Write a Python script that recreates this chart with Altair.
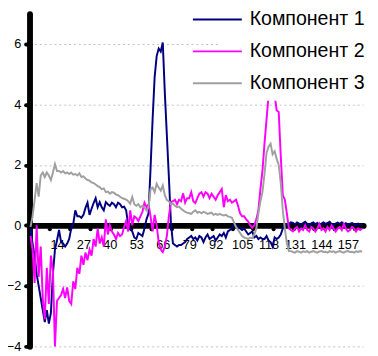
import altair as alt
import pandas as pd

series_names = ["Компонент 1", "Компонент 2", "Компонент 3"]
colors = ["#000080", "#ff00ff", "#a0a0a0"]
x_labels = [1, 14, 27, 40, 53, 66, 79, 92, 105, 118, 131, 144, 157]
y_labels = [-4, -2, 0, 2, 4, 6]
tick_cats = [10, 20, 30, 40, 50, 60, 70, 80, 90, 100, 110, 120, 130, 140, 150, 160]

comp1 = [
    -0.1, -0.6, -1.0, -1.6, -2.0, -2.4, -2.8, -3.2, -2.8, -3.25,
    -2.9, -1.6, -0.8, -0.5, -0.15, -0.55, -0.6, -0.7, -0.6, -0.45,
    -0.1, 0.05, 0.5, 0.3, 0.3, 0.25, 0.35, 0.58, 0.75, 0.35,
    0.55, 0.74, 0.9, 0.6, 0.77, 0.6, 0.5, 0.77, 0.7, 0.65,
    0.75, 0.7, 0.6, 0.75, 0.7, 0.6, 0.62, 0.5, 0.0, -0.1,
    -0.2, -0.4, -0.45, -0.25, -0.3, -0.35, -0.1, 0.2, 0.4, 1.9,
    3.5, 4.9, 5.6, 5.85, 5.75, 6.05, 4.4, 3.0, 1.6, 0.1,
    -0.6, -0.65, -0.7, -0.65, -0.65, -0.6, -0.55, -0.45, -0.4, -0.35,
    -0.45, -0.4, -0.5, -0.35, -0.4, -0.55, -0.4, -0.3, -0.45, -0.4,
    -0.35, -0.5, -0.4, -0.3, -0.35, -0.25, -0.4, -0.2, -0.15, -0.1,
    0.05, 0.0, -0.05, -0.1, -0.15, -0.1, -0.2, -0.3, -0.25, -0.2,
    -0.4, -0.35, -0.45, -0.4, -0.45, -0.45, -0.35, -0.5, -0.55, -0.7,
    -0.4, -0.45, -0.4, -0.3, -0.1, 0.0, 0.05,
    0.05, 0.1, 0.08, 0.03, 0.1, 0.06, 0.02, 0.08, 0.12, 0.05,
    0.0, 0.07, 0.1, 0.04, 0.08, 0.02, 0.06, 0.1, 0.05, 0.08,
    0.12, 0.04, 0.0, 0.06, 0.09, 0.05, 0.1, 0.03, 0.07, 0.02,
    0.05, 0.08, 0.04, 0.0, 0.06, 0.03, 0.05,
]

comp2 = [
    -0.35, -0.8, -1.9, 0.0, -1.7, -0.7, -2.4, -3.1, -1.4, -2.6,
    -1.0, -1.5, -4.0, -2.5, -2.4, -2.3, -2.1, -2.4, -2.05, -2.5,
    -2.6, -1.85, -2.1, -1.4, -1.6, -1.0, -1.3, -0.9, -1.15, -0.8,
    -1.0, -0.45, -0.7, -0.1, -0.6, -0.4, -0.7, 0.2, -0.3, 0.0,
    -0.2, -0.3, -0.45, -0.25, -0.35, -0.3, -0.05, 0.15, -0.2, 0.5,
    0.0, 0.3, 0.25, 0.15, 0.3, 0.45, 0.75, 0.6, 0.7, 0.3,
    -0.2, 0.35, 0.0, -0.55, -0.8, -0.88, -0.7, -0.35, 0.3, 0.77,
    0.8, 0.85, 0.7, 0.85, 0.8, 1.06, 0.75, 0.9, 0.9, 1.1,
    0.8, 0.74, 0.9, 1.05, 1.1, 0.95, 1.1, 1.05, 0.9, 1.05,
    0.95, 0.85, 1.0, 1.1, 1.2, 0.6, 1.0, 0.8, 0.85, 0.75,
    0.8, 0.85, 0.65, 0.4, 0.3, 0.3, 0.2, 0.13, 0.0, -0.07,
    0.0, 0.2, 0.5, 1.2, 1.8, 2.7, 3.5, 4.3, 4.5, 4.4,
    4.3, 3.8, 3.75, 2.3, 1.0, 0.85, 0.4, -0.1,
    -0.15, -0.2, -0.1, -0.05, -0.2, -0.1, -0.15, 0.0, -0.15, -0.2,
    -0.05, -0.1, -0.2, -0.1, 0.05, -0.15, -0.1, -0.2, -0.05, -0.15,
    0.0, -0.1, -0.2, -0.1, -0.05, -0.15, 0.05, -0.1, -0.2, -0.15,
    -0.05, -0.1, -0.2, -0.1, -0.15, -0.1,
]

comp3 = [
    -0.05, 0.3, 0.84, 1.4, 0.95, 1.65, 1.75, 1.6, 1.75, 1.65,
    1.5, 1.75, 2.03, 1.8, 1.8, 1.75, 1.8, 1.72, 1.75, 1.7,
    1.75, 1.68, 1.7, 1.65, 1.72, 1.6, 1.62, 1.55, 1.5, 1.48,
    1.42, 1.4, 1.35, 1.3, 1.27, 1.2, 1.22, 1.1, 1.12, 1.05,
    1.1, 1.08, 1.02, 1.0, 0.95, 0.9, 0.88, 0.85, 0.8, 0.72,
    0.94, 0.7, 0.65, 0.7, 0.6, 0.65, 0.58, 0.5, 0.6, 1.2,
    1.25, 1.1, 1.38, 1.25, 1.15, 1.32, 1.0, 0.84, 0.8, 0.7,
    0.72, 0.65, 0.6, 0.62, 0.55, 0.5, 0.45, 0.42, 0.4, 0.38,
    0.45, 0.5, 0.42, 0.45, 0.4, 0.45, 0.42, 0.38, 0.4, 0.42,
    0.35, 0.38, 0.35, 0.38, 0.35, 0.33, 0.35, 0.3, 0.28, 0.25,
    0.1, -0.05, -0.15, -0.25, -0.35, -0.4, -0.42, -0.45, -0.4, -0.42,
    -0.3, -0.1, 0.4, 0.8, 1.1, 1.7, 2.4, 2.6, 2.7, 2.35,
    2.45, 2.2, 2.0, 1.4, 0.5, -0.1, -0.6, -0.85,
    -0.85, -0.88, -0.9, -0.85, -0.87, -0.9, -0.86, -0.88, -0.85, -0.9,
    -0.87, -0.85, -0.88, -0.9, -0.86, -0.85, -0.88, -0.87, -0.9, -0.85,
    -0.88, -0.86, -0.9, -0.87, -0.85, -0.88, -0.9, -0.86, -0.85, -0.88,
    -0.87, -0.9, -0.86, -0.88, -0.85, -0.87,
]

assert len(comp1) == 164 and len(comp2) == 164 and len(comp3) == 164

rows = []
for name, vals in zip(series_names, [comp1, comp2, comp3]):
    for i, v in enumerate(vals):
        rows.append({"cat": i + 1, "val": v, "series": name})
df = pd.DataFrame(rows)
ticks_df = pd.DataFrame({"cat": tick_cats, "val": [0] * len(tick_cats)})

W, H = 341, 340
FONT = "Liberation Sans"

x_enc = alt.X(
    "cat:Q",
    scale=alt.Scale(domain=[0.5, 164.5], nice=False, zero=False),
    axis=alt.Axis(
        values=x_labels, offset=-H * 4 / 11, domainWidth=6, domainColor="black",
        domainCap="round", ticks=False, labelPadding=14, labelFontSize=13,
        labelColor="black", labelFont=FONT, grid=False, title=None,
        labelFlush=False, labelOverlap=False,
    ),
)
y_enc = alt.Y(
    "val:Q",
    scale=alt.Scale(domain=[-4, 7], nice=False, zero=False),
    axis=alt.Axis(
        values=y_labels, domainWidth=6, domainColor="black", domainCap="round",
        tickSize=4, tickWidth=4, tickCap="round", tickColor="black",
        labelPadding=5, labelFontSize=13, labelColor="black", labelFont=FONT,
        grid=True, gridDash=[2, 3], gridColor="#c0c0c0", gridWidth=1, title=None,
    ),
)

dots = alt.Chart(ticks_df).mark_circle(
    size=16, color="black", opacity=1, xOffset=1, yOffset=4
).encode(x=x_enc, y=y_enc)

lines = alt.Chart(df).mark_line(strokeWidth=2).encode(
    x=x_enc,
    y=y_enc,
    color=alt.Color(
        "series:N",
        scale=alt.Scale(domain=series_names, range=colors),
        legend=alt.Legend(
            orient="none", legendX=194, legendY=-12, title=None,
            symbolType="M-9,0H1", symbolSize=100, symbolStrokeWidth=2,
            labelFontSize=20, labelFont=FONT, labelColor="black",
            rowPadding=12.5, fillColor="white", padding=8, labelOffset=3,
            labelLimit=0,
        ),
    ),
)

chart = alt.layer(dots, lines).properties(
    width=W, height=H,
    autosize=alt.AutoSizeParams(type="none"),
    padding={"left": 22, "top": 2, "right": 7, "bottom": 6},
).configure_view(stroke=None)

chart.save("out.html", embed_options={"renderer": "svg", "actions": False})
